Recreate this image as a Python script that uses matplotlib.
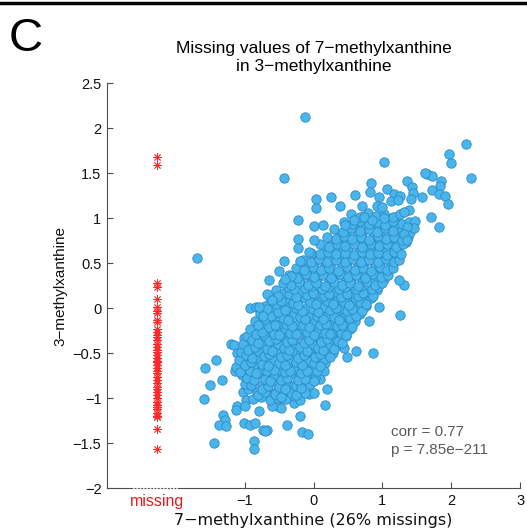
import matplotlib
matplotlib.use("Agg")
import matplotlib.pyplot as plt
from matplotlib.lines import Line2D

plt.rcParams["font.family"] = ["Liberation Sans", "DejaVu Sans"]

# x position used for the "missing" column
missing_pos = -2.27

# 3-methylxanthine values where 7-methylxanthine is missing
missing_y = [1.68, 1.59, 0.28, 0.24, 0.10, 0.01, -0.03, -0.05, -0.13, -0.15,
             -0.23, -0.26, -0.30, -0.32, -0.35, -0.40, -0.43, -0.46, -0.48,
             -0.52, -0.55, -0.58, -0.60, -0.63, -0.66, -0.69, -0.72, -0.76,
             -0.80, -0.83, -0.87, -0.90, -0.93, -0.96, -1.00, -1.04, -1.07,
             -1.09, -1.12, -1.16, -1.20, -1.21, -1.34, -1.56]

# sparse points around the cloud (x = 7-methylxanthine, y = 3-methylxanthine)
upper_pts = [(-1.70, 0.56), (-0.12, 2.12), (-0.43, 1.45), (1.03, 1.63), (2.22, 1.82),
             (1.97, 1.72), (2.00, 1.62), (2.28, 1.45), (1.65, 1.49), (1.72, 1.47),
             (1.62, 1.50), (1.85, 1.42), (1.84, 1.36), (1.72, 1.32), (1.82, 1.27),
             (1.91, 1.25), (1.95, 1.16), (1.58, 1.24), (1.70, 1.01), (1.82, 0.90),
             (1.36, 1.42), (1.43, 1.35), (1.45, 1.28), (1.42, 1.21), (0.84, 1.39),
             (0.82, 1.29), (0.60, 1.26), (0.25, 1.24), (0.04, 1.21), (0.03, 1.12),
             (0.38, 1.14), (0.70, 1.14), (0.95, 1.24), (1.07, 1.33), (1.17, 1.27),
             (1.26, 1.25), (1.12, 1.19), (1.23, 1.20), (0.92, 1.14), (0.99, 1.13),
             (1.02, 1.00), (0.73, 1.01), (0.85, 0.98), (0.58, 0.98), (0.46, 0.93),
             (-0.23, 0.98), (0.00, 0.91), (0.14, 0.93), (-0.23, 0.77), (-0.23, 0.67),
             (0.00, 0.76), (-0.43, 0.53), (-0.50, 0.42), (-0.65, 0.31), (-0.07, 0.63),
             (-0.19, 0.53), (-0.33, 0.36), (-0.41, 0.33), (-0.67, 0.16), (-0.79, 0.01),
             (-0.74, -0.08), (-0.60, 0.09), (1.38, 1.09), (1.31, 1.07), (1.47, 0.97),
             (1.46, 0.89), (1.36, 0.90), (1.31, 0.83), (1.36, 0.76)]

lower_pts = [(-0.93, 0.00), (-0.84, 0.01), (-1.20, -0.39), (-1.16, -0.41),
             (-1.01, -0.33), (-1.11, -0.49), (-1.42, -0.57), (-1.57, -0.66),
             (-1.33, -0.79), (-1.51, -0.85), (-1.59, -1.01), (-1.14, -0.70),
             (-1.06, -0.62), (-0.94, -0.80), (-0.91, -0.86), (-1.03, -0.93),
             (-0.98, -1.02), (-1.11, -1.08), (-1.13, -1.13), (-0.99, -1.08),
             (-1.31, -1.18), (-1.29, -1.24), (-1.37, -1.29), (-1.27, -1.31),
             (-1.44, -1.49), (-1.01, -1.27), (-0.93, -1.30), (-0.85, -1.27),
             (-0.87, -1.47), (-0.86, -1.56), (-0.79, -1.14), (-0.73, -1.35),
             (-0.67, -1.35), (-0.39, -1.30), (-0.19, -1.20), (-0.17, -1.37),
             (-0.08, -1.39), (-0.29, -1.05), (-0.59, -1.04), (-0.53, -1.08),
             (-0.48, -1.11), (-0.61, -1.08), (-0.78, -0.96), (-0.62, -0.96),
             (-0.50, -0.98), (-0.07, -0.95), (0.16, -1.07), (0.20, -0.89),
             (0.00, -0.94), (0.86, -0.50), (0.61, -0.47), (0.49, -0.54),
             (0.44, -0.44), (1.26, -0.07), (1.31, 0.26), (1.24, 0.31),
             (0.80, -0.14), (0.95, 0.01), (0.17, -0.61), (0.15, -0.69),
             (0.10, -0.78), (0.00, -0.80), (-0.48, -1.00), (-0.70, -1.36)]

# dense part of the cloud
core_lower = [(-0.88, -1.01), (-0.76, -0.98), (-0.63, -1.02), (-0.52, -0.99), (-0.40, -1.01),
              (-0.29, -0.97), (-0.20, -1.02),
              (-0.95, -0.90), (-0.82, -0.93), (-0.70, -0.91), (-0.57, -0.94), (-0.46, -0.90),
              (-0.34, -0.93), (-0.22, -0.91), (-0.12, -0.94),
              (-1.00, -0.84), (-0.88, -0.81), (-0.75, -0.85), (-0.64, -0.82), (-0.51, -0.84),
              (-0.40, -0.81), (-0.28, -0.85), (-0.16, -0.82), (-0.05, -0.84),
              (-1.04, -0.74), (-0.93, -0.77), (-0.81, -0.73), (-0.68, -0.76), (-0.57, -0.74),
              (-0.45, -0.77), (-0.33, -0.73), (-0.21, -0.76), (-0.09, -0.74), (0.02, -0.77),
              (-1.12, -0.65), (-0.99, -0.68), (-0.87, -0.64), (-0.75, -0.67), (-0.62, -0.65),
              (-0.50, -0.68), (-0.39, -0.64), (-0.27, -0.67), (-0.14, -0.65), (-0.03, -0.68),
              (0.08, -0.64),
              (-1.08, -0.57), (-0.95, -0.59), (-0.82, -0.56), (-0.70, -0.59), (-0.58, -0.57),
              (-0.45, -0.60), (-0.33, -0.56), (-0.21, -0.59), (-0.08, -0.57), (0.04, -0.60),
              (0.15, -0.56),
              (-1.05, -0.48), (-0.92, -0.51), (-0.80, -0.47), (-0.67, -0.50), (-0.55, -0.48),
              (-0.42, -0.51), (-0.30, -0.47), (-0.18, -0.50), (-0.06, -0.48), (0.06, -0.51),
              (0.18, -0.47), (0.28, -0.50),
              (-1.02, -0.40), (-0.89, -0.42), (-0.76, -0.39), (-0.64, -0.42), (-0.51, -0.40),
              (-0.39, -0.43), (-0.27, -0.39), (-0.14, -0.42), (-0.02, -0.40), (0.10, -0.43),
              (0.22, -0.39), (0.33, -0.42)]

core_mid = [(-0.97, -0.31), (-0.85, -0.34), (-0.72, -0.30), (-0.60, -0.33), (-0.47, -0.31),
            (-0.35, -0.34), (-0.22, -0.30), (-0.10, -0.33), (0.02, -0.31), (0.15, -0.34),
            (0.27, -0.30), (0.38, -0.33), (0.47, -0.31),
            (-0.92, -0.23), (-0.79, -0.25), (-0.66, -0.22), (-0.54, -0.25), (-0.42, -0.23),
            (-0.29, -0.26), (-0.17, -0.22), (-0.05, -0.25), (0.08, -0.23), (0.20, -0.26),
            (0.32, -0.22), (0.44, -0.25), (0.53, -0.23),
            (-0.85, -0.14), (-0.73, -0.17), (-0.61, -0.13), (-0.48, -0.16), (-0.36, -0.14),
            (-0.23, -0.17), (-0.11, -0.13), (0.01, -0.16), (0.14, -0.14), (0.26, -0.17),
            (0.38, -0.13), (0.50, -0.16), (0.60, -0.14),
            (-0.78, -0.06), (-0.66, -0.08), (-0.53, -0.05), (-0.41, -0.08), (-0.28, -0.06),
            (-0.16, -0.09), (-0.04, -0.05), (0.09, -0.08), (0.21, -0.06), (0.33, -0.09),
            (0.45, -0.05), (0.56, -0.08), (0.67, -0.06),
            (-0.71, 0.03), (-0.59, 0.00), (-0.47, 0.04), (-0.34, 0.01), (-0.22, 0.03),
            (-0.09, 0.00), (0.03, 0.04), (0.15, 0.01), (0.28, 0.03), (0.40, 0.00),
            (0.52, 0.04), (0.64, 0.01), (0.76, 0.03),
            (-0.63, 0.11), (-0.51, 0.09), (-0.38, 0.12), (-0.26, 0.09), (-0.13, 0.11),
            (-0.01, 0.08), (0.11, 0.12), (0.24, 0.09), (0.36, 0.11), (0.48, 0.08),
            (0.60, 0.12), (0.72, 0.09), (0.84, 0.11),
            (-0.55, 0.20), (-0.43, 0.17), (-0.30, 0.21), (-0.18, 0.18), (-0.05, 0.20),
            (0.07, 0.17), (0.19, 0.21), (0.32, 0.18), (0.44, 0.20), (0.56, 0.17),
            (0.68, 0.21), (0.80, 0.18), (0.92, 0.20)]

core_upper = [(-0.45, 0.28), (-0.33, 0.26), (-0.21, 0.29), (-0.08, 0.26), (0.04, 0.28),
              (0.16, 0.25), (0.29, 0.29), (0.41, 0.26), (0.53, 0.28), (0.65, 0.25),
              (0.77, 0.29), (0.89, 0.26), (1.00, 0.28),
              (-0.36, 0.37), (-0.24, 0.34), (-0.11, 0.38), (0.01, 0.35), (0.13, 0.37),
              (0.26, 0.34), (0.38, 0.38), (0.50, 0.35), (0.62, 0.37), (0.74, 0.34),
              (0.86, 0.38), (0.98, 0.35), (1.08, 0.37),
              (-0.26, 0.45), (-0.14, 0.43), (-0.01, 0.46), (0.11, 0.43), (0.23, 0.45),
              (0.36, 0.42), (0.48, 0.46), (0.60, 0.43), (0.72, 0.45), (0.84, 0.42),
              (0.96, 0.46), (1.07, 0.43), (1.16, 0.45),
              (-0.16, 0.54), (-0.04, 0.51), (0.08, 0.55), (0.20, 0.52), (0.33, 0.54),
              (0.45, 0.51), (0.57, 0.55), (0.69, 0.52), (0.81, 0.54), (0.93, 0.51),
              (1.05, 0.55), (1.17, 0.52), (1.24, 0.54),
              (-0.04, 0.62), (0.09, 0.60), (0.21, 0.63), (0.33, 0.60), (0.46, 0.62),
              (0.58, 0.59), (0.70, 0.63), (0.82, 0.60), (0.94, 0.62), (1.06, 0.59),
              (1.17, 0.63), (1.27, 0.60),
              (0.09, 0.71), (0.22, 0.68), (0.34, 0.72), (0.46, 0.69), (0.59, 0.71),
              (0.71, 0.68), (0.83, 0.72), (0.95, 0.69), (1.07, 0.71), (1.19, 0.68),
              (1.30, 0.71),
              (0.20, 0.79), (0.32, 0.77), (0.44, 0.80), (0.56, 0.77), (0.69, 0.79),
              (0.81, 0.76), (0.93, 0.80), (1.05, 0.77), (1.17, 0.79), (1.28, 0.76),
              (1.37, 0.79),
              (0.30, 0.88), (0.43, 0.85), (0.55, 0.89), (0.67, 0.86), (0.80, 0.88),
              (0.92, 0.85), (1.04, 0.89), (1.16, 0.86), (1.28, 0.88), (1.40, 0.85),
              (0.44, 0.96), (0.56, 0.94), (0.68, 0.97), (0.80, 0.94), (0.92, 0.96),
              (1.04, 0.93), (1.16, 0.97), (1.28, 0.94), (1.38, 0.96),
              (0.55, 1.05), (0.67, 1.02), (0.79, 1.06), (0.91, 1.03), (1.03, 1.05),
              (1.15, 1.02), (1.26, 1.05)]

# more points sitting between the rows above
core_fill = [(-0.80, -0.96), (-0.71, -0.93), (-0.56, -0.95), (-0.47, -0.98), (-0.33, -0.94),
             (-0.25, -0.96),
             (-0.91, -0.85), (-0.75, -0.89), (-0.66, -0.86), (-0.50, -0.87), (-0.41, -0.90),
             (-0.26, -0.86), (-0.18, -0.88),
             (-0.96, -0.77), (-0.87, -0.80), (-0.71, -0.78), (-0.63, -0.81), (-0.47, -0.79),
             (-0.38, -0.77), (-0.23, -0.80), (-0.13, -0.78), (0.01, -0.81),
             (-1.07, -0.71), (-0.92, -0.69), (-0.83, -0.72), (-0.67, -0.70), (-0.58, -0.68),
             (-0.42, -0.71), (-0.34, -0.69), (-0.18, -0.72), (-0.10, -0.70), (0.05, -0.69),
             (-1.00, -0.63), (-0.91, -0.60), (-0.75, -0.62), (-0.66, -0.64), (-0.50, -0.61),
             (-0.41, -0.63), (-0.25, -0.60), (-0.17, -0.63), (0.00, -0.61), (0.09, -0.64),
             (-0.98, -0.52), (-0.89, -0.55), (-0.72, -0.53), (-0.64, -0.51), (-0.47, -0.54),
             (-0.39, -0.52), (-0.22, -0.55), (-0.14, -0.52), (0.02, -0.54), (0.10, -0.51),
             (0.24, -0.54),
             (-0.95, -0.46), (-0.85, -0.43), (-0.68, -0.45), (-0.60, -0.47), (-0.43, -0.44),
             (-0.35, -0.46), (-0.19, -0.43), (-0.10, -0.47), (0.06, -0.44), (0.14, -0.46),
             (0.29, -0.45),
             (-0.89, -0.35), (-0.80, -0.38), (-0.64, -0.36), (-0.55, -0.34), (-0.39, -0.37),
             (-0.31, -0.35), (-0.14, -0.38), (-0.06, -0.35), (0.11, -0.37), (0.19, -0.34),
             (0.35, -0.36), (0.41, -0.38),
             (-0.84, -0.29), (-0.75, -0.26), (-0.58, -0.28), (-0.50, -0.30), (-0.34, -0.27),
             (-0.25, -0.29), (-0.09, -0.26), (0.00, -0.30), (0.16, -0.27), (0.24, -0.29),
             (0.40, -0.27), (0.47, -0.30),
             (-0.81, -0.18), (-0.65, -0.21), (-0.56, -0.19), (-0.40, -0.17), (-0.32, -0.20),
             (-0.15, -0.18), (-0.07, -0.21), (0.10, -0.19), (0.18, -0.17), (0.34, -0.20),
             (0.42, -0.18), (0.56, -0.21),
             (-0.70, -0.12), (-0.62, -0.09), (-0.45, -0.11), (-0.37, -0.13), (-0.20, -0.10),
             (-0.12, -0.12), (0.05, -0.09), (0.13, -0.12), (0.29, -0.10), (0.37, -0.13),
             (0.53, -0.11), (0.61, -0.09),
             (-0.67, -0.01), (-0.51, -0.04), (-0.42, -0.02), (-0.26, 0.00), (-0.17, -0.03),
             (-0.01, -0.01), (0.07, -0.04), (0.24, -0.02), (0.32, 0.00), (0.48, -0.03),
             (0.56, -0.01), (0.71, -0.03),
             (-0.55, 0.05), (-0.47, 0.08), (-0.30, 0.06), (-0.22, 0.04), (-0.05, 0.07),
             (0.03, 0.05), (0.19, 0.08), (0.28, 0.05), (0.44, 0.07), (0.52, 0.04),
             (0.68, 0.07), (0.76, 0.05),
             (-0.51, 0.14), (-0.35, 0.16), (-0.26, 0.13), (-0.10, 0.15), (-0.01, 0.17),
             (0.15, 0.14), (0.23, 0.16), (0.40, 0.13), (0.48, 0.16), (0.64, 0.14),
             (0.72, 0.17), (0.87, 0.14),
             (-0.37, 0.24), (-0.29, 0.21), (-0.12, 0.23), (-0.04, 0.25), (0.12, 0.22),
             (0.21, 0.24), (0.37, 0.21), (0.45, 0.24), (0.61, 0.22), (0.69, 0.25),
             (0.85, 0.22), (0.93, 0.24),
             (-0.28, 0.31), (-0.19, 0.33), (-0.03, 0.30), (0.05, 0.33), (0.22, 0.31),
             (0.30, 0.34), (0.46, 0.31), (0.54, 0.33), (0.70, 0.30), (0.78, 0.33),
             (0.94, 0.31), (1.02, 0.33),
             (-0.18, 0.41), (-0.10, 0.38), (0.07, 0.40), (0.15, 0.42), (0.32, 0.39),
             (0.40, 0.41), (0.56, 0.38), (0.64, 0.41), (0.80, 0.39), (0.88, 0.42),
             (1.03, 0.40),
             (-0.08, 0.48), (0.00, 0.50), (0.16, 0.47), (0.25, 0.50), (0.41, 0.48),
             (0.49, 0.51), (0.65, 0.48), (0.73, 0.50), (0.89, 0.47), (0.97, 0.50),
             (1.12, 0.48),
             (0.04, 0.58), (0.13, 0.55), (0.29, 0.57), (0.37, 0.59), (0.54, 0.56),
             (0.62, 0.58), (0.78, 0.55), (0.86, 0.58), (1.02, 0.56), (1.09, 0.59),
             (1.21, 0.57),
             (0.17, 0.65), (0.25, 0.67), (0.42, 0.64), (0.50, 0.67), (0.67, 0.65),
             (0.75, 0.68), (0.91, 0.65), (0.99, 0.67), (1.15, 0.64), (1.22, 0.67),
             (0.24, 0.75), (0.40, 0.73), (0.48, 0.76), (0.65, 0.73), (0.73, 0.75),
             (0.89, 0.72), (0.97, 0.75), (1.13, 0.73), (1.21, 0.76), (1.34, 0.74),
             (0.38, 0.82), (0.47, 0.84), (0.63, 0.81), (0.71, 0.84), (0.88, 0.82),
             (0.96, 0.84), (1.12, 0.81), (1.20, 0.84), (1.33, 0.82),
             (0.48, 0.92), (0.64, 0.90), (0.72, 0.93), (0.88, 0.90), (0.96, 0.92),
             (1.12, 0.89), (1.20, 0.92), (1.35, 0.91),
             (0.63, 0.99), (0.71, 1.01), (0.87, 0.98), (0.95, 1.01), (1.11, 0.99),
             (1.19, 1.01)]

yticks = [-2, -1.5, -1, -0.5, 0, 0.5, 1, 1.5, 2, 2.5]
xticks = [-1, 0, 1, 2, 3]

corr_text = "corr = 0.77\np = 7.85e\u2212211"


def fmt(v):
    s = ("%g" % v).replace("-", "\u2212")
    return s


fig = plt.figure(figsize=(5.27, 5.29), dpi=100)
ax = fig.add_axes([0.203, 0.0766, 0.784, 0.766])

pts = lower_pts + core_lower + core_mid + core_fill + core_upper + upper_pts
xs = [p[0] for p in pts]
ys = [p[1] for p in pts]
ax.scatter(xs, ys, s=46, facecolor="#4ab5ea", edgecolor="#2a8bc9", linewidths=0.6, zorder=3)

ax.plot([missing_pos] * len(missing_y), missing_y, linestyle="none",
        marker=(8, 2, 0), markersize=6, markeredgewidth=0.6, color="#ff2a2a", zorder=3)

ax.set_xlim(-3, 3)
ax.set_ylim(-2, 2.5)

gray = "#4d4d4d"
for side in ["top", "right"]:
    ax.spines[side].set_visible(False)
for side in ["left", "bottom"]:
    ax.spines[side].set_color(gray)
    ax.spines[side].set_linewidth(0.8)

ax.set_yticks(yticks)
ax.set_yticklabels([fmt(v) for v in yticks])
ax.set_xticks([missing_pos] + xticks)
ax.set_xticklabels(["missing"] + [fmt(v) for v in xticks])
ax.tick_params(direction="in", length=4, color=gray, labelsize=10.5, labelcolor="#111111", pad=4)
mt = ax.xaxis.get_major_ticks()[0]
mt.tick1line.set_visible(False)
mt.label1.set_color("#e8191e")
mt.label1.set_fontsize(11.5)

# dotted break of the x axis under the "missing" column
ax.plot([-2.62, -1.97], [-2, -2], color="white", linestyle=(0, (1, 1)), linewidth=1.2,
        clip_on=False, zorder=5)

ax.set_xlabel("7\u2212methylxanthine (26% missings)", fontsize=11.5, family="DejaVu Sans",
              labelpad=3, color="#111111")
ax.set_ylabel("3\u2212methylxanthine", fontsize=11, labelpad=4, color="#111111")
ax.set_title("Missing values of 7\u2212methylxanthine\nin 3\u2212methylxanthine",
             fontsize=12.5, pad=9, linespacing=1.25)

ax.text(1.12, -1.30, corr_text, fontsize=11, color="#5a5a5a", va="top", ha="left",
        linespacing=1.3)

fig.text(0.017, 0.927, "C", fontsize=34, va="center", ha="left")
fig.add_artist(Line2D([0, 1], [0.994, 0.994], color="black", linewidth=2.5,
                      transform=fig.transFigure))

fig.savefig("out.png", dpi=100)
